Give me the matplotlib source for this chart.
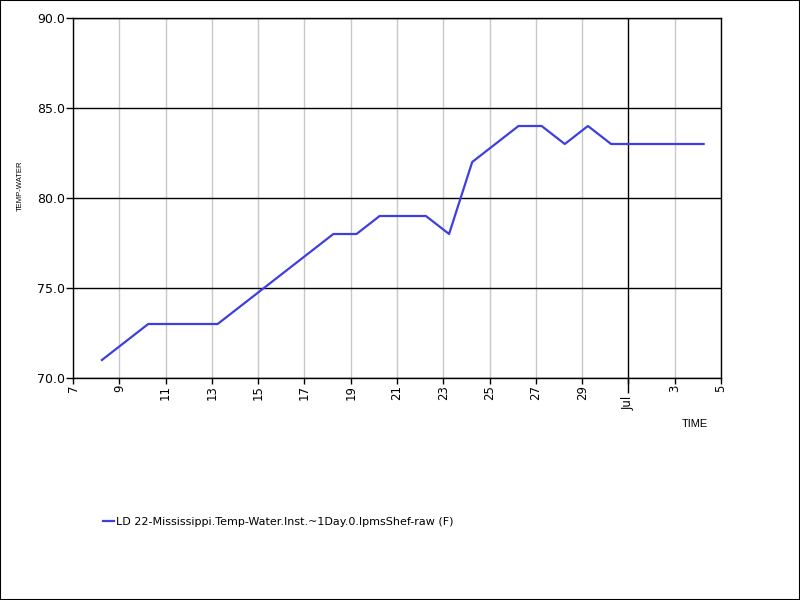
import matplotlib
matplotlib.use('Agg')
import matplotlib.pyplot as plt
import pandas as pd
from matplotlib.patches import Rectangle

# readings (daily, 06:00) - only the vertices visible in the chart
times = ['2023-06-08 06:00', '2023-06-10 06:00', '2023-06-13 06:00', '2023-06-18 06:00',
         '2023-06-19 06:00', '2023-06-20 06:00', '2023-06-22 06:00', '2023-06-23 06:00',
         '2023-06-24 06:00', '2023-06-26 06:00', '2023-06-27 06:00', '2023-06-28 06:00',
         '2023-06-29 06:00', '2023-06-30 06:00', '2023-07-04 06:00']
temp_water = [71, 73, 73, 78, 78, 79, 79, 78, 82, 84, 84, 83, 84, 83, 83]

tick_days = pd.date_range('2023-06-07', '2023-07-05', freq='2D')
tick_labels = ['' if d.day == 1 else str(d.day) for d in tick_days]
month_start = pd.Timestamp('2023-07-01')
y_ticks = [70, 75, 80, 85, 90]
series_name = 'LD 22-Mississippi.Temp-Water.Inst.~1Day.0.lpmsShef-raw (F)'

plt.rcParams['font.family'] = ['DejaVu Sans']
fig = plt.figure(figsize=(8, 6), dpi=100)
ax = fig.add_axes([73/800, 1-378/600, 648/800, 360/600])

x = pd.to_datetime(times)
ax.plot(x, temp_water, color='#3f3fe0', lw=1.6, label=series_name, zorder=3)

ax.set_xlim(pd.Timestamp('2023-06-07'), pd.Timestamp('2023-07-05'))
ax.set_ylim(70, 90)
ax.set_yticks(y_ticks)
ax.set_yticklabels([f'{v:.1f}' for v in y_ticks], fontsize=9)
ax.set_xticks(tick_days)
ax.set_xticklabels(tick_labels, rotation=90, fontsize=8.5)
# long tick for the month start
ax.xaxis.remove_overlapping_locs = False
ax.set_xticks([month_start], minor=True)
ax.tick_params(axis='x', which='minor', length=11, width=1)
ax.annotate('Jul', xy=(month_start, 0), xycoords=('data', 'axes fraction'),
            xytext=(0, -13), textcoords='offset points', rotation=90,
            ha='center', va='top', fontsize=8.5)

# gridlines: grey for days, black for month start and y
for d in tick_days:
    if d.day == 1:
        ax.axvline(d, color='black', lw=1, zorder=2)
    else:
        ax.axvline(d, color='#c8c8c8', lw=1, zorder=1)
for v in y_ticks:
    ax.axhline(v, color='black', lw=1, zorder=2)

ax.tick_params(axis='y', length=5, width=1, pad=1)
ax.tick_params(axis='x', which='major', length=4, width=1, pad=1)
for s in ax.spines.values():
    s.set_color('black')
    s.set_linewidth(1)

fig.text(20/800, 1-186/600, 'TEMP-WATER', rotation=90, ha='center', va='center',
         fontsize=5.5, family='Liberation Sans')
fig.text(695/800, 1-424/600, 'TIME', ha='center', va='center', fontsize=8, family='Liberation Sans')

fig.legend(loc='center left', bbox_to_anchor=(103/800, 1-522/600), frameon=False,
           handlelength=1.0, handletextpad=0.2, borderpad=0, borderaxespad=0, fontsize=8)

fig.patches.append(Rectangle((0, 0), 1, 1, transform=fig.transFigure, fill=False,
                             edgecolor='black', lw=1.5))

fig.savefig('out.png', dpi=100)
